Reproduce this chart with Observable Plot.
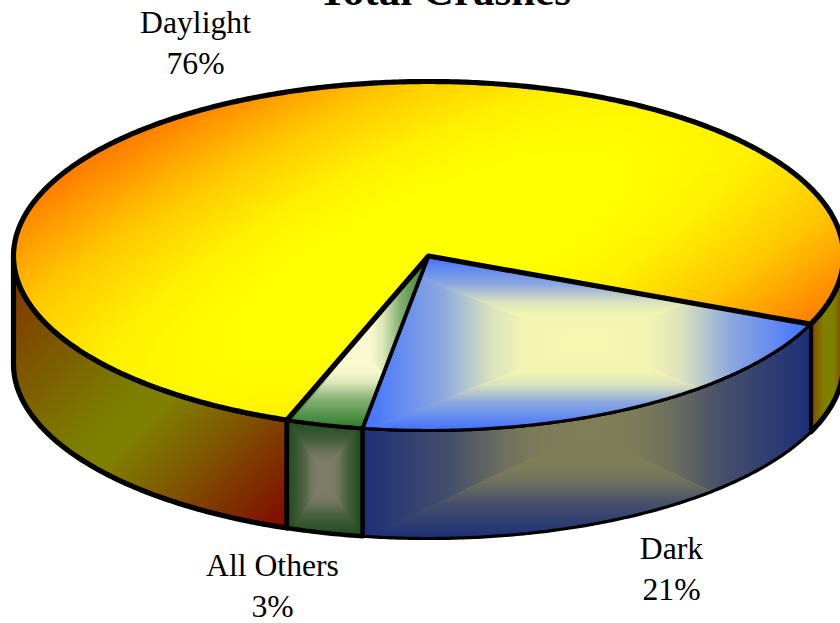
<!DOCTYPE html>
<html>
<head>
<meta charset="utf-8">
<style>html,body{margin:0;padding:0;background:#fff}svg{display:block}</style>
<script src="https://cdn.jsdelivr.net/npm/d3@7"></script>
<script src="https://cdn.jsdelivr.net/npm/@observablehq/plot@0.6"></script>
</head>
<body>
<div id="chart"></div>
<script>
const title = "Total Crashes";
const categories = ["Dark", "All Others", "Daylight"];
const shares = [21.15, 3, 75.85];

// layout of the tilted pie
const W = 840, H = 623;
const cx = 428, cy = 255.5, rx = 415, ry = 174.5, depth = 108, startDeg = 23;
const serif = "'Liberation Serif','Times New Roman',serif";

const rad = d => d * Math.PI / 180;
const pos = (deg, drop = 0) => [cx + rx * Math.cos(rad(deg)), cy + ry * Math.sin(rad(deg)) + drop];
const arc = (a, b, drop = 0) => {
  const n = Math.max(2, Math.ceil(Math.abs(b - a) / 0.5));
  return d3.range(n + 1).map(i => pos(a + (b - a) * i / n, drop));
};

// slice angles from the shares
let acc = startDeg;
const angle = {};
categories.forEach((c, i) => { angle[c] = [acc, acc + shares[i] * 3.6]; acc += shares[i] * 3.6; });

const topOutline = c => [[cx, cy], ...arc(angle[c][0], angle[c][1])];
const wallOutline = (a, b) => [...arc(a, b), ...arc(b, a, depth)];

const tops = Object.fromEntries(categories.map(c => [c, topOutline(c)]));
const walls = {
  "Dark": wallOutline(...angle["Dark"]),
  "All Others": wallOutline(...angle["All Others"]),
  "DaylightLeft": wallOutline(angle["Daylight"][0], 180),
  "DaylightRight": wallOutline(0, startDeg)
};

const rectSpec = [
  {id: "bt", pts: tops["Dark"], edge: "#4070ff", mid: "#f8f8b0", sx: 0.72, sy: 0.66},
  {id: "gt", pts: tops["All Others"], edge: "#2a7a2a", mid: "#fdfbd4", sx: 0.8, sy: 0.66},
  {id: "bw", pts: walls["Dark"], edge: "#1c2f78", mid: "#807e58", sx: 0.8, sy: 0.66},
  {id: "gw", pts: walls["All Others"], edge: "#1e4a1e", mid: "#807e68", sx: 0.8, sy: 0.72}
];
rectSpec.forEach(s => {
  const [x0, x1] = d3.extent(s.pts, d => d[0]);
  const [y0, y1] = d3.extent(s.pts, d => d[1]);
  s.box = {x0, x1, y0, y1, xm: (x0 + x1) / 2, ym: (y0 + y1) / 2};
});

const tri = (s, side) => {
  const b = s.box;
  const c = [b.xm, b.ym];
  const corners = {
    l: [[b.x0, b.y0], [b.x0, b.y1]], r: [[b.x1, b.y0], [b.x1, b.y1]],
    t: [[b.x0, b.y0], [b.x1, b.y0]], b: [[b.x0, b.y1], [b.x1, b.y1]]
  }[side];
  return [corners[0], corners[1], c];
};

const poly = (pts, o = {}) => Plot.line(pts, {
  x: d => d[0], y: d => d[1], curve: "linear-closed",
  stroke: "black", strokeLinejoin: "round", strokeLinecap: "round", ...o
});

const shade = s => ["l", "r", "t", "b"].map(k => poly(tri(s, k), {
  fill: `url(#${s.id}${k})`, stroke: "none", shapeRendering: "crispEdges",
  ariaDescription: `clip-${s.id}`
}));
const S = Object.fromEntries(rectSpec.map(s => [s.id, s]));

const labelPos = {
  "Daylight": [195, 40],
  "Dark": [671, 566],
  "All Others": [272, 583]
};

const labelData = categories.map((c, i) => ({
  text: `${c}\n${Math.round(shares[i])}%`, x: labelPos[c][0], y: labelPos[c][1]
}));

const plot = Plot.plot({
  width: W, height: H, margin: 0,
  style: {background: "white", overflow: "hidden"},
  x: {domain: [0, W], range: [0, W], axis: null},
  y: {domain: [0, H], range: [0, H], axis: null},
  marks: [
    poly(walls["DaylightLeft"], {fill: "url(#wallL)", strokeWidth: 5.2}),
    poly(walls["DaylightRight"], {fill: "url(#wallR)", strokeWidth: 5.2}),
    ...shade(S.bw),
    poly(walls["Dark"], {strokeWidth: 3.2}),
    ...shade(S.gw),
    poly(walls["All Others"], {strokeWidth: 4.5}),
    ...shade(S.bt),
    poly(tops["Dark"], {strokeWidth: 3.2}),
    ...shade(S.gt),
    poly(tops["All Others"], {strokeWidth: 3.8}),
    poly(tops["Daylight"], {fill: "url(#topY)", strokeWidth: 5.2}),
    Plot.text(labelData, {
      x: "x", y: "y", text: "text", fontFamily: serif, fontSize: 31.7,
      lineHeight: 1.29, fill: "black", textAnchor: "middle"
    }),
    Plot.text([title], {
      x: () => 444, y: () => -9, text: d => d, fontFamily: serif, fontSize: 43,
      fontWeight: "bold", fill: "black", textAnchor: "middle"
    })
  ]
});

// gradients and clip regions
const svg = d3.select(plot);
const defs = svg.insert("defs", ":first-child");
const addStops = (g, stops) => stops.forEach(([o, c]) => g.append("stop").attr("offset", o).attr("stop-color", c));
const linear = (id, x1, y1, x2, y2, stops) => {
  const g = defs.append("linearGradient").attr("id", id)
    .attr("gradientUnits", "userSpaceOnUse")
    .attr("x1", x1).attr("y1", y1).attr("x2", x2).attr("y2", y2);
  addStops(g, stops);
};
addStops(defs.append("radialGradient").attr("id", "topY")
  .attr("gradientUnits", "userSpaceOnUse")
  .attr("cx", 0).attr("cy", 0).attr("r", 1)
  .attr("gradientTransform", `translate(${cx},${cy}) rotate(-25) scale(800,240)`),
  [[0, "#ffff00"], [0.25, "#ffff00"], [0.45, "#fff000"], [0.7, "#ffc800"], [1, "#ff8000"]]);
linear("wallL", 13, 255, 285, 527,
  [[0, "#803000"], [0.45, "#7c7c00"], [0.55, "#808000"], [0.7, "#805c00"], [1, "#800800"]]);
linear("wallR", 810, 0, 843, 0,
  [[0, "#804000"], [0.4, "#808000"], [0.7, "#808000"], [1, "#804000"]]);
rectSpec.forEach(s => {
  const b = s.box;
  const mix = d3.interpolateRgb(s.edge, s.mid);
  const ramp = k => [[0, s.edge], [k * 0.5, mix(0.42)], [k * 0.8, mix(0.84)], [k, mix(0.97)], [1, s.mid]];
  const sx = ramp(s.sx), sy = ramp(s.sy);
  linear(s.id + "l", b.x0, 0, b.xm, 0, sx);
  linear(s.id + "r", b.x1, 0, b.xm, 0, sx);
  linear(s.id + "t", 0, b.y0, 0, b.ym, sy);
  linear(s.id + "b", 0, b.y1, 0, b.ym, sy);
  defs.append("clipPath").attr("id", "cp" + s.id).append("path")
    .attr("d", d3.line()(s.pts) + "Z");
  svg.selectAll(`g[aria-description="clip-${s.id}"]`).attr("clip-path", `url(#cp${s.id})`);
});

document.getElementById("chart").appendChild(plot);
</script>
</body>
</html>
